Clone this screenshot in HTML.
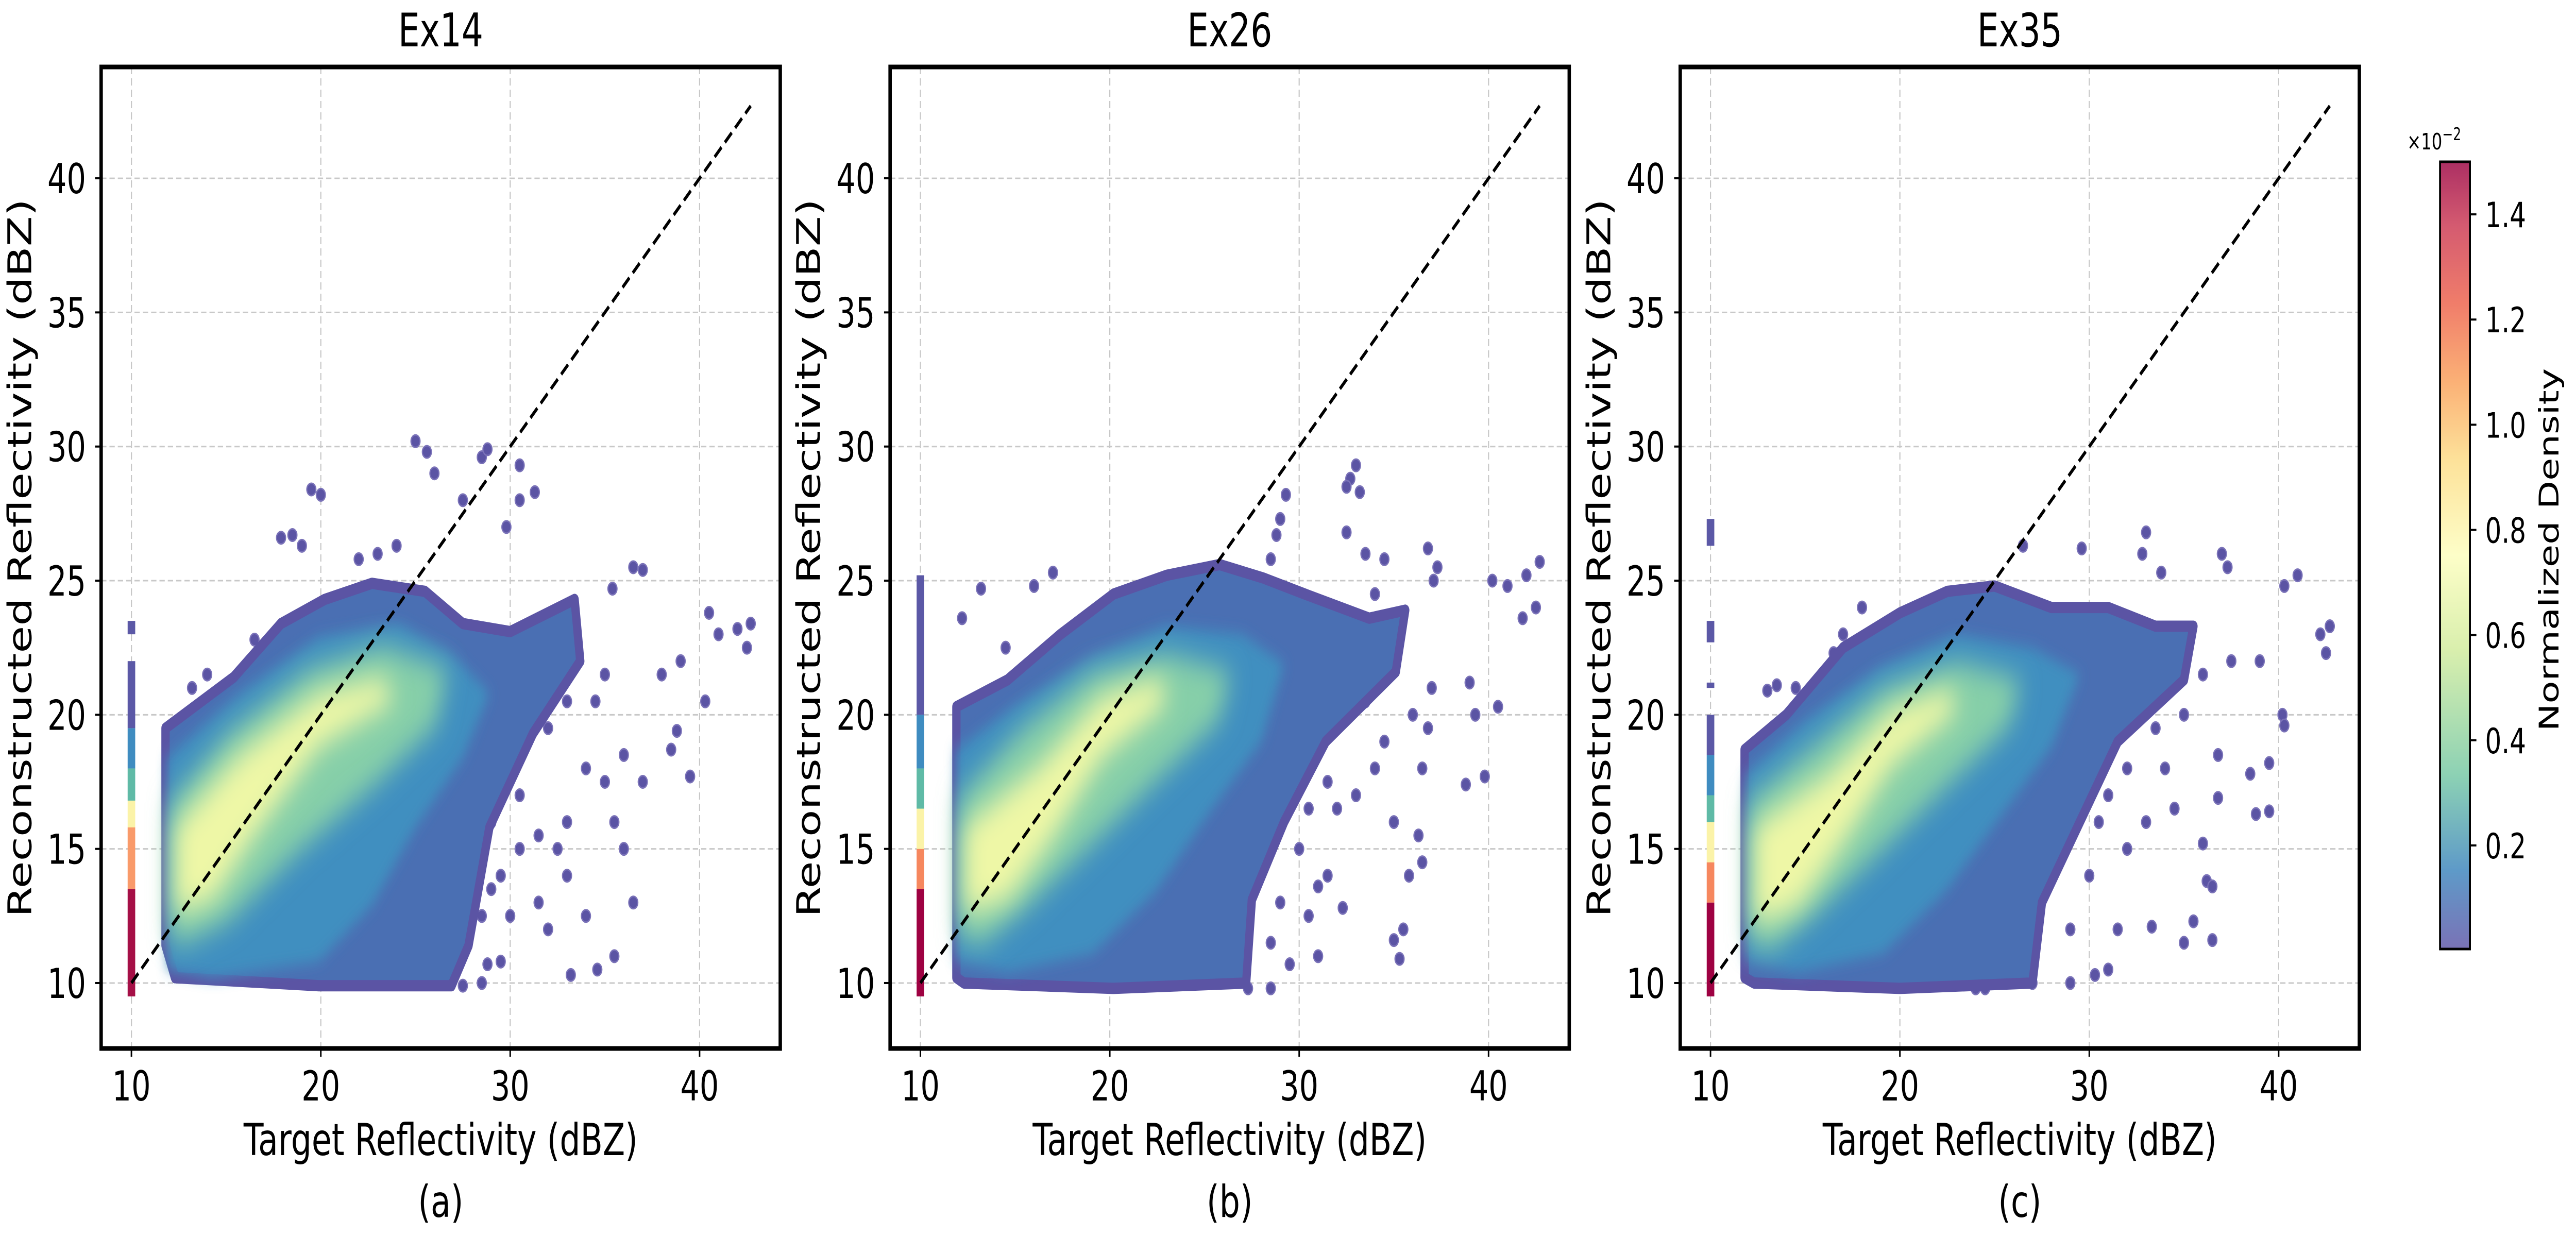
<!DOCTYPE html>
<html><head><meta charset="utf-8"><style>
html,body{margin:0;padding:0;background:#fff;overflow:hidden;width:100%;height:100%;}
svg{display:block;width:100vw;height:100vh;font-family:"DejaVu Sans","Liberation Sans",sans-serif;}
</style></head><body>
<svg id="chart" viewBox="0 0 6801 2399" preserveAspectRatio="none" xmlns="http://www.w3.org/2000/svg">
<defs>
<filter id="blur1" x="-20%" y="-20%" width="140%" height="140%"><feGaussianBlur stdDeviation="28"/></filter>
<filter id="blur2" x="-20%" y="-20%" width="140%" height="140%"><feGaussianBlur stdDeviation="14"/></filter>
<linearGradient id="cbgrad" x1="0" y1="1" x2="0" y2="0">
<stop offset="0" stop-color="#7a72b6"/><stop offset="0.1" stop-color="#5e9ac8"/><stop offset="0.22" stop-color="#8cd1b4"/>
<stop offset="0.38" stop-color="#d9efad"/><stop offset="0.5" stop-color="#fdfec8"/><stop offset="0.62" stop-color="#fde29a"/>
<stop offset="0.72" stop-color="#fbb176"/><stop offset="0.82" stop-color="#f07d6a"/><stop offset="0.92" stop-color="#d45a70"/><stop offset="1" stop-color="#ac2f63"/>
</linearGradient>
</defs>
</svg>
<script>
const xTicks = [10, 20, 30, 40];
const yTicks = [10, 15, 20, 25, 30, 35, 40];
const panelTitles = ["Ex14", "Ex26", "Ex35"];
const panelLetters = ["(a)", "(b)", "(c)"];
const cbTicks = [0.2, 0.4, 0.6, 0.8, 1.0, 1.2, 1.4];

const outerA = [[11.8,11.4],[11.8,19.5],[15.4,21.4],[17.9,23.4],[20.2,24.3],[22.7,24.9],[25.5,24.6],[27.5,23.4],[30,23.1],[33.4,24.3],[33.7,22],[31.2,19.3],[28.9,15.8],[27.8,11.4],[26.9,9.9],[19.9,9.9],[12.3,10.2]];
const midA = [[11.9,10.5],[11.9,18.4],[15.7,20.8],[19.9,22.9],[24.1,23.4],[26.9,22.3],[28.9,20.8],[27.5,18.4],[25,15.8],[22.7,12.9],[19.9,10.8],[14.3,10.2]];
const coreA = [[12,11.7],[12,16.7],[15.1,19.3],[19.4,21.7],[23.3,22.6],[26.7,21.7],[26.1,19.6],[22.7,17.3],[18.8,14.9],[15.1,12.3],[12.6,11.4]];
const brightA = [[12.3,12.6],[12.3,15.8],[15.7,18.5],[19.9,20.8],[23.3,21.4],[23.9,20.5],[19.9,18.8],[16.5,15.5],[14.3,13.1]];

const outerB = [[11.9,10.2],[11.9,20.3],[14.6,21.3],[17.4,23],[20.2,24.5],[23,25.2],[25.8,25.6],[28.1,25.1],[30.3,24.5],[33.7,23.6],[35.6,23.9],[35.1,21.6],[31.4,19],[29.2,16],[27.5,13.1],[27.2,10],[20.2,9.8],[12.3,10]];
const midB = [[11.9,10.8],[11.9,18.7],[15.1,20.4],[19.1,22.2],[23,23.3],[27,23],[29.2,21.9],[28,19],[25.3,16.4],[22.4,13.4],[19.1,11.1],[14.6,10.4]];
const coreB = [[12,11.7],[12,16.9],[15.4,19.5],[19.1,21.6],[23,22.3],[26.4,21.6],[25.8,19.8],[22.4,17.5],[19.1,15.2],[15.7,12.9],[13.2,11.4]];
const brightB = [[12.3,12.6],[12.3,15.8],[16.3,18.1],[19.6,20.7],[22.7,21.4],[23,20.4],[19.6,18.4],[16.8,15.2],[14.6,13.1]];

const outerC = [[11.8,10.2],[11.8,18.7],[14,20],[17,22.5],[20,23.8],[22.5,24.6],[25,24.8],[28,24],[31,24],[33.5,23.3],[35.5,23.3],[35,21.3],[31.5,19],[29.5,16],[27.5,13],[27,10],[20,9.8],[12.3,10]];
const midC = [[11.9,10.8],[11.9,17.8],[15,19.8],[19,21.8],[23,23],[27,22.5],[29.5,21.5],[28,18.8],[25.3,16.2],[22.4,13.4],[19.1,11.1],[14.6,10.4]];
const coreC = [[12,11.5],[12,16.8],[15.4,18.8],[19.1,21],[23,22],[26.4,21.3],[25.8,19.6],[22.4,17.3],[19.1,15],[15.7,12.7],[13.2,11.2]];
const brightC = [[12.3,12.2],[12.3,15.8],[16.3,17.8],[19.6,20.2],[22.7,21],[23,20.1],[19.6,18.1],[16.8,15],[14.6,12.8]];

const outlierA = [[25,30.2],[25.6,29.8],[28.5,29.6],[28.8,29.9],[30.5,29.3],[26,29],[27.5,28],[29.8,27],[30.5,28],[31.3,28.3],[19.5,28.4],[20,28.2],[17.9,26.6],[18.5,26.7],[19,26.3],[16.5,22.8],[14,21.5],[13.2,21],[35.4,24.7],[36.5,25.5],[37,25.4],[38,21.5],[39,22],[40.5,23.8],[41,23],[42,23.2],[42.7,23.4],[42.5,22.5],[39.5,17.7],[40.3,20.5],[38.5,18.7],[38.8,19.4],[35,17.5],[35.5,16],[36,15],[36.5,13],[35.5,11],[34.6,10.5],[33.2,10.3],[32,12],[31.5,13],[33,14],[30,12.5],[28.8,10.7],[29.5,10.8],[27.5,9.9],[28.5,10],[34,18],[36,18.5],[37,17.5],[33,16],[32.5,15],[30.5,17],[29,16],[22,25.8],[23,26],[24,26.3],[31,20],[32,19.5],[33,20.5],[30.5,18.5],[34.5,20.5],[35,21.5],[29.5,14],[30.5,15],[28.5,12.5],[29,13.5],[31.5,15.5],[34,12.5]];
const outlierB = [[33,29.3],[32.7,28.8],[33.2,28.3],[32.5,28.5],[29.3,28.2],[29,27.3],[28.8,26.7],[28.5,25.8],[32.5,26.8],[33.5,26],[34.5,25.8],[34,24.5],[36.8,26.2],[37.3,25.5],[37.1,25],[40.2,25],[41,24.8],[42,25.2],[42.7,25.7],[42.5,24],[41.8,23.6],[40.5,20.3],[39,21.2],[39.3,20],[38.8,17.4],[39.8,17.7],[36.8,19.5],[36.5,18],[36.3,15.5],[36.5,14.5],[35.8,14],[35,11.6],[35.5,12],[35.3,10.9],[32.3,12.8],[31,13.6],[31.5,14],[30.5,12.5],[31,11],[29.5,10.7],[28.5,9.8],[27.3,9.8],[14.5,22.5],[13.2,24.7],[12.2,23.6],[16,24.8],[17,25.3],[33,17],[34,18],[35,16],[32,16.5],[36,20],[37,21],[32,19.5],[33.5,20.5],[30,15],[30.5,16.5],[29,13],[28.5,11.5],[31.5,17.5],[34.5,19]];
const outlierC = [[26.5,26.3],[29.6,26.2],[33,26.8],[32.8,26],[33.8,25.3],[37,26],[37.3,25.5],[41,25.2],[40.3,24.8],[42.2,23],[42.7,23.3],[42.5,22.3],[39,22],[40.2,20],[40.3,19.6],[39.5,18.2],[39.5,16.4],[38.8,16.3],[38.5,17.8],[36.8,18.5],[36.8,16.9],[36,15.2],[36.2,13.8],[36.5,13.6],[35.5,12.3],[36.5,11.6],[35,11.5],[33.3,12.1],[31.5,12],[31,10.5],[30.3,10.3],[29,10],[27,10],[24,9.8],[24.5,9.8],[13.5,21.1],[14.5,21],[16.5,22.3],[17,23],[18,24],[13,20.9],[34,18],[33,16],[32,15],[35,20],[36,21.5],[37.5,22],[32,18],[31,17],[30,14],[29,12],[30.5,16],[33.5,19.5],[34.5,16.5]];

const stripeA = [[9.5,13.5,"#a50f46"],[13.5,15.8,"#f99a6a"],[15.8,16.8,"#fbf3a8"],[16.8,18,"#5fbaa6"],[18,19.5,"#3f8cc0"],[19.5,22,"#5b58a6"],[23,23.5,"#5b58a6"]];
const stripeB = [[9.5,13.5,"#9e0142"],[13.5,15,"#f6875e"],[15,16.5,"#fbf3a8"],[16.5,18,"#5fbaa6"],[18,20,"#3f8cc0"],[20,25.2,"#5b58a6"]];
const stripeC = [[9.5,13,"#9e0142"],[13,14.5,"#f6875e"],[14.5,16,"#fbf3a8"],[16,17,"#5fbaa6"],[17,18.5,"#3f8cc0"],[18.5,20,"#5b58a6"],[21,21.2,"#5b58a6"],[22.7,23.5,"#5b58a6"],[26.3,27.3,"#5b58a6"]];

const panels = [
  {ox:267, outer:outerA, mid:midA, core:coreA, bright:brightA, out:outlierA, stripe:stripeA},
  {ox:2350, outer:outerB, mid:midB, core:coreB, bright:brightB, out:outlierB, stripe:stripeB},
  {ox:4436, outer:outerC, mid:midC, core:coreC, bright:brightC, out:outlierC, stripe:stripeC}
];

const svg = document.getElementById('chart');
const NS = 'http://www.w3.org/2000/svg';
function mk(tag, attrs, parent){const e=document.createElementNS(NS,tag);for(const k in attrs)e.setAttribute(k,attrs[k]);(parent||svg).appendChild(e);return e;}
const AW=1793, AT=130, AB=2035, XMIN=8.4, XMAX=44.26, YMIN=7.56, YMAX=44.15;

panels.forEach((p,i)=>{
  const sx = v => p.ox + (v-XMIN)/(XMAX-XMIN)*AW;
  const sy = v => AB - (v-YMIN)/(YMAX-YMIN)*(AB-AT);
  const g = mk('g',{});
  
  
  const cid='clip'+i;
  const cp=mk('clipPath',{id:cid},g); mk('rect',{x:p.ox,y:AT,width:AW,height:AB-AT},cp);
  xTicks.forEach(t=>{const l=mk('line',{x1:sx(t),x2:sx(t),y1:AT,y2:AB,stroke:'#c8c8c8','stroke-width':3,'stroke-dasharray':'14 8'},g);
    });
  yTicks.forEach(t=>{const l=mk('line',{x1:p.ox,x2:p.ox+AW,y1:sy(t),y2:sy(t),stroke:'#c8c8c8','stroke-width':3,'stroke-dasharray':'14 8'},g);
    });
  const cg = mk('g',{'clip-path':'url(#'+cid+')'},g);
  
  
  const pts = arr => arr.map(q=>sx(q[0]).toFixed(1)+','+sy(q[1]).toFixed(1)).join(' ');
  p.out.forEach(q=>{const c=mk('circle',{cx:sx(q[0]),cy:sy(q[1]),r:12,fill:'#5b54a4',stroke:'#7a72b8','stroke-width':3},cg);
    });
  const o=mk('polygon',{points:pts(p.outer),fill:'#4a6fb3',stroke:'#5b54a4','stroke-width':22,'stroke-linejoin':'round'},cg);
  
  const m=mk('polygon',{points:pts(p.mid),fill:'#3f8fc0',filter:'url(#blur2)'},cg);
  
  const c1=mk('polygon',{points:pts(p.core),fill:'#86cfa9',filter:'url(#blur1)'},cg);
  
  const b=mk('polygon',{points:pts(p.bright),fill:'#eef7a6',filter:'url(#blur1)'},cg);
  
  p.stripe.forEach(s=>{const r=mk('rect',{x:sx(10)-10,y:sy(s[1]),width:20,height:sy(s[0])-sy(s[1]),fill:s[2]},cg);
    });
  const d=mk('line',{x1:sx(10),y1:sy(10),x2:sx(42.7),y2:sy(42.7),stroke:'#000','stroke-width':7,'stroke-dasharray':'26 13'},g);
  
  const fr=mk('rect',{x:p.ox,y:AT,width:AW,height:AB-AT,fill:'none',stroke:'#000','stroke-width':9},g);
  
  xTicks.forEach(t=>{mk('line',{x1:sx(t),x2:sx(t),y1:AB,y2:AB+16,stroke:'#000','stroke-width':4},g);
    const tx=mk('text',{x:sx(t),y:2136,'font-size':80,'text-anchor':'middle'},g);tx.textContent=t;
    });
  yTicks.forEach(t=>{mk('line',{x1:p.ox-16,x2:p.ox,y1:sy(t),y2:sy(t),stroke:'#000','stroke-width':4},g);
    const tx=mk('text',{x:p.ox-40,y:sy(t)+29,'font-size':80,'text-anchor':'end'},g);tx.textContent=t;
    });
  const tt=mk('text',{x:p.ox+AW/2,y:90,'font-size':90,'text-anchor':'middle'},g);tt.textContent=panelTitles[i];
  
  const xl=mk('text',{x:p.ox+AW/2,y:2242,'font-size':86,'text-anchor':'middle'},g);xl.textContent='Target Reflectivity (dBZ)';
  
  const yl=mk('text',{x:0,y:0,'font-size':86,'text-anchor':'middle',transform:'translate('+(p.ox-185)+',1083) rotate(-90)'},g);yl.textContent='Reconstructed Reflectivity (dBZ)';
  
  const pl=mk('text',{x:p.ox+AW/2,y:2362,'font-size':86,'text-anchor':'middle'},g);pl.textContent=panelLetters[i];
  
});

const CBX=6442, CBW=79, CBT=314, CBB=1842, CMIN=0.003, CMAX=1.5;
const cy = v => CBB - (v-CMIN)/(CMAX-CMIN)*(CBB-CBT);
const cb=mk('rect',{x:CBX,y:CBT,width:CBW,height:CBB-CBT,fill:'url(#cbgrad)',stroke:'#000','stroke-width':5});

cbTicks.forEach(t=>{mk('line',{x1:CBX+CBW,x2:CBX+CBW+17,y1:cy(t),y2:cy(t),stroke:'#000','stroke-width':4});
  const tx=mk('text',{x:CBX+CBW+40,y:cy(t)+25,'font-size':68},svg);tx.textContent=t.toFixed(1);
  });
const ex=mk('text',{x:6355,y:290,'font-size':44});ex.innerHTML='×10<tspan dy="-18" font-size="34">−2</tspan>';

const cl=mk('text',{x:0,y:0,'font-size':72,'text-anchor':'middle',transform:'translate(6755,1067) rotate(-90)'});cl.textContent='Normalized Density';

</script>
</body></html>
